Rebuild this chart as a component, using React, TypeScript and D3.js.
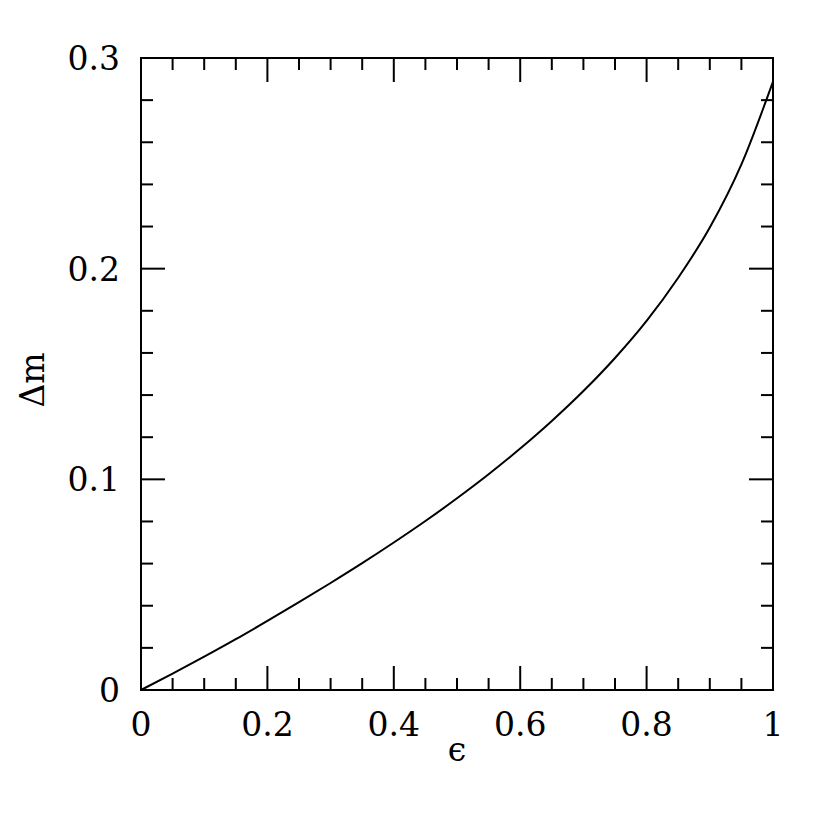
import * as d3 from "d3";

// epsilon values and magnitude difference
const eps = [0, 0.05, 0.1, 0.15, 0.2, 0.25, 0.3, 0.35, 0.4, 0.45, 0.5, 0.55, 0.6, 0.65, 0.7, 0.75, 0.8, 0.85, 0.9, 0.95, 1.0];
const dm = [0, 0.0078, 0.0158, 0.0241, 0.0328, 0.0417, 0.0508, 0.0602, 0.07, 0.0802, 0.091, 0.1024, 0.1146, 0.1277, 0.1419, 0.1576, 0.1752, 0.1957, 0.2195, 0.2495, 0.2888];

const xMajor = [0, 0.2, 0.4, 0.6, 0.8, 1];
const xLabels = ["0", "0.2", "0.4", "0.6", "0.8", "1"];
const yMajor = [0, 0.1, 0.2, 0.3];
const yLabels = ["0", "0.1", "0.2", "0.3"];

function App() {
  const left = 141;
  const top = 58;
  const w = 632;
  const h = 632;
  const font = "'DejaVu Serif', serif";

  const x = d3.scaleLinear().domain([0, 1]).range([left, left + w]);
  const y = d3.scaleLinear().domain([0, 0.3]).range([top + h, top]);

  const xMinor = d3.range(0, 21).map((i) => i * 0.05);
  const yMinor = d3.range(0, 16).map((i) => i * 0.02);
  const isMajor = (v, step) => Math.abs(v / step - Math.round(v / step)) < 1e-6;

  const pts = eps.map((e, i) => [e, dm[i]]);
  const line = d3
    .line()
    .x((d) => x(d[0]))
    .y((d) => y(d[1]))
    .curve(d3.curveMonotoneX);

  return (
    <svg width={830} height={830} style={{ display: "block", position: "absolute", left: 0, top: 0 }}>
      <rect width={830} height={830} fill="#fff" />
      {xMinor.map((v, i) => {
        const len = isMajor(v, 0.2) ? 24 : 12;
        return (
          <g key={"xt" + i} stroke="#000" strokeWidth={2}>
            <line x1={x(v)} x2={x(v)} y1={top + h} y2={top + h - len} />
            <line x1={x(v)} x2={x(v)} y1={top} y2={top + len} />
          </g>
        );
      })}
      {yMinor.map((v, i) => {
        const len = isMajor(v, 0.1) ? 24 : 12;
        return (
          <g key={"yt" + i} stroke="#000" strokeWidth={2}>
            <line x1={left} x2={left + len} y1={y(v)} y2={y(v)} />
            <line x1={left + w} x2={left + w - len} y1={y(v)} y2={y(v)} />
          </g>
        );
      })}
      <rect x={left} y={top} width={w} height={h} fill="none" stroke="#000" strokeWidth={2} />
      <path d={line(pts)} fill="none" stroke="#000" strokeWidth={2} />
      {xMajor.map((v, i) => (
        <text key={"xl" + i} x={x(v)} y={736} textAnchor="middle" fontFamily={font} fontSize={33}>
          {xLabels[i]}
        </text>
      ))}
      {yMajor.map((v, i) => (
        <text key={"yl" + i} x={120} y={y(v)} dy="0.36em" textAnchor="end" fontFamily={font} fontSize={33}>
          {yLabels[i]}
        </text>
      ))}
      <text x={457} y={761} textAnchor="middle" fontFamily={font} fontSize={33}>
        ϵ
      </text>
      <text transform={`translate(44, 380) rotate(-90)`} textAnchor="middle" fontFamily={font} fontSize={33}>
        Δm
      </text>
    </svg>
  );
}

export default App;
